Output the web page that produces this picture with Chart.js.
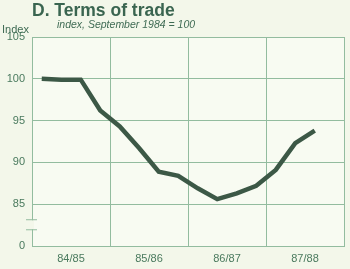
<!DOCTYPE html>
<html>
<head>
<meta charset="utf-8">
<script src="https://cdn.jsdelivr.net/npm/chart.js@4"></script>
<style>
  html, body { margin: 0; padding: 0; background: #f3f7ea; }
  #wrap { position: relative; width: 350px; height: 269px; font-family: "Liberation Sans", Arial, sans-serif; }
  #wrap canvas { position: absolute; left: 0; top: 0; }
  .t { position: absolute; white-space: nowrap; color: #3f6b54; }
  #title { left: 32px; top: 0px; font-size: 17.5px; font-weight: bold; color: #3a6550; }
  #sub { left: 57px; top: 18px; font-size: 10.5px; font-style: italic; }
  #unit { left: 2px; top: 23px; font-size: 11px; }
</style>
</head>
<body>
<div id="wrap">
  <canvas id="chart" width="350" height="269"></canvas>
  <div class="t" id="title">D. Terms of trade</div>
  <div class="t" id="sub">index, September 1984 = 100</div>
  <div class="t" id="unit">Index</div>
</div>
<script>
// quarterly terms of trade index, Sep 1984 = 100
const quarters = ['Sep 84', 'Dec 84', 'Mar 85', 'Jun 85', 'Sep 85', 'Dec 85', 'Mar 86', 'Jun 86',
                  'Sep 86', 'Dec 86', 'Mar 87', 'Jun 87', 'Sep 87', 'Dec 87', 'Mar 88'];
const values = [100, 99.9, 99.9, 96.2, 94.3, 91.7, 88.9, 88.4, 86.9, 85.6, 86.3, 87.2, 89.1, 92.3, 93.8];
const yearLabels = ['84/85', '85/86', '86/87', '87/88'];
const yTicks = [80, 85, 90, 95, 100, 105];

const BG = '#f3f7ea';
const PLOT_BG = '#f8fbf2';
const GRID = '#93bc9f';
const LINE = '#3c5846';
const TEXT = '#4a7a5e';

// plot area fill + axis break on the y axis
const decor = {
    id: 'decor',
    beforeDraw(chart) {
        const { ctx, chartArea: a } = chart;
        ctx.save();
        ctx.fillStyle = PLOT_BG;
        ctx.fillRect(a.left, a.top, a.right - a.left, a.bottom - a.top);
        ctx.restore();
    },
    afterDraw(chart) {
        const { ctx, chartArea: a } = chart;
        const y = chart.scales.y;
        const y1 = y.getPixelForValue(83.2);
        const y2 = y.getPixelForValue(82.0);
        ctx.save();
        ctx.fillStyle = BG;
        ctx.fillRect(a.left - 2, y1 + 1, 4, y2 - y1 - 1);
        ctx.strokeStyle = GRID;
        ctx.lineWidth = 1;
        ctx.beginPath();
        ctx.moveTo(a.left - 6, y1 + 0.5); ctx.lineTo(a.left + 5, y1 + 0.5);
        ctx.moveTo(a.left - 6, y2 + 0.5); ctx.lineTo(a.left + 5, y2 + 0.5);
        ctx.stroke();
        ctx.restore();
    }
};

new Chart(document.getElementById('chart'), {
    type: 'line',
    data: {
        datasets: [{
            label: 'Terms of trade',
            data: values.map((v, i) => ({ x: i + 0.5, y: v })),
            borderColor: LINE,
            borderWidth: 4.5,
            pointRadius: 0,
            tension: 0,
            fill: false,
        }],
    },
    options: {
        responsive: false,
        animation: false,
        layout: { padding: { left: 0, right: 5, top: 37, bottom: 0 } },
        plugins: { legend: { display: false }, tooltip: { enabled: false } },
        scales: {
            x: {
                type: 'linear',
                min: 0,
                max: 16,
                afterBuildTicks: s => { s.ticks = [0, 2, 4, 6, 8, 10, 12, 14, 16].map(v => ({ value: v })); },
                afterFit: s => { s.height = 23; },
                ticks: {
                    autoSkip: false,
                    maxRotation: 0,
                    padding: 6,
                    color: TEXT,
                    font: { family: 'Liberation Sans', size: 11 },
                    callback: v => (v % 4 === 2 ? yearLabels[(v - 2) / 4] : ''),
                },
                grid: {
                    color: c => (c.tick && c.tick.value % 4 === 0 ? GRID : 'rgba(0,0,0,0)'),
                    drawTicks: false,
                },
                border: { color: GRID },
            },
            y: {
                min: 80,
                max: 105,
                afterBuildTicks: s => { s.ticks = yTicks.map(v => ({ value: v })); },
                afterFit: s => { s.width = 32; },
                ticks: {
                    padding: 7,
                    color: TEXT,
                    font: { family: 'Liberation Sans', size: 11 },
                    callback: v => (v === 80 ? '0' : String(v)),
                },
                grid: { color: GRID, drawTicks: false },
                border: { color: GRID },
            },
        },
    },
    plugins: [decor],
});
</script>
</body>
</html>
